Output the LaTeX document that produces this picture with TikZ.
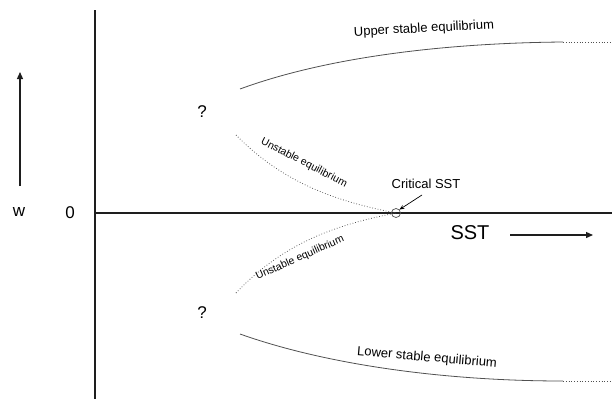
\documentclass[tikz,border=0pt]{standalone}
\usepackage{fontspec}
\setmainfont{Liberation Sans}
\usetikzlibrary{arrows.meta}
\definecolor{CurveLine}{RGB}{80,80,80}
\definecolor{AxisLine}{RGB}{30,30,30}
\tikzset{
  ax/.style={draw=AxisLine,line width=1.3pt},
  stab/.style={draw=CurveLine,line width=0.8pt},
  unstab/.style={draw=CurveLine,line width=0.75pt,dotted},
  arr/.style={-{Triangle[length=7pt,width=6pt]},line width=1.3pt,draw=AxisLine},
  sarr/.style={-{Stealth[length=5pt,width=4pt]},line width=0.7pt},
  clbl/.style={font=\fontsize{13}{15}\selectfont,inner sep=1pt},
  ulbl/.style={font=\fontsize{10.5}{12}\selectfont,inner sep=1pt},
  big/.style={font=\fontsize{17}{20}\selectfont,inner sep=1pt},
}
\begin{document}
\begin{tikzpicture}[x=1pt,y=-1pt]
\useasboundingbox (0,0) rectangle (612,399);
% axes
\coordinate (vt) at (95,10);
\coordinate (vb) at (95,399);
\coordinate (hl) at (95,213);
\coordinate (hr) at (612,213);
\draw[ax](vt)--(vb);
\draw[ax](hl)--(hr);
\node[big] at (70,213)(zero){0};
\node[big] at (19,212)(w){w};
\coordinate (wb) at (20,186);
\coordinate (wt) at (20,72);
\draw[arr](wb)--(wt);
\node[font=\fontsize{20}{24}\selectfont,inner sep=1pt] at (470,233)(sst){SST};
\coordinate (sa) at (510,235);
\coordinate (sb) at (593,235);
\draw[arr](sa)--(sb);
% critical point
\node[circle,draw=CurveLine,line width=0.7pt,minimum size=9pt,inner sep=0pt] at (396,213)(crit){};
\node[clbl] at (426,184)(critlbl){Critical SST};
\coordinate (ca) at (422,195);
\draw[sarr](ca)--(crit.north east);
% stable branches
\coordinate (us0) at (240,89);
\coordinate (us1) at (563,42);
\coordinate (us2) at (612,42);
\draw[stab](us0)..controls(330,56) and (450,43)..(us1);
\draw[unstab](us1)--(us2);
\node[clbl,rotate=3] at (424,29)(uslbl){Upper stable equilibrium};
\coordinate (ls0) at (240,334);
\coordinate (ls1) at (563,381);
\coordinate (ls2) at (612,381);
\draw[stab](ls0)..controls(330,366) and (450,381)..(ls1);
\draw[unstab](ls1)--(ls2);
\node[clbl,rotate=-5] at (427,358)(lslbl){Lower stable equilibrium};
% unstable branches
\coordinate (uu0) at (236,135);
\coordinate (lu0) at (236,293);
\draw[unstab](uu0)..controls(285,185) and (340,202)..(crit.center);
\draw[unstab](lu0)..controls(285,241) and (340,224)..(crit.center);
\node[ulbl,rotate=-27] at (304,163)(uulbl){Unstable equilibrium};
\node[ulbl,rotate=24] at (300,258)(lulbl){Unstable equilibrium};
\node[big] at (202,112)(qu){?};
\node[big] at (202,313)(ql){?};
\end{tikzpicture}
\end{document}
